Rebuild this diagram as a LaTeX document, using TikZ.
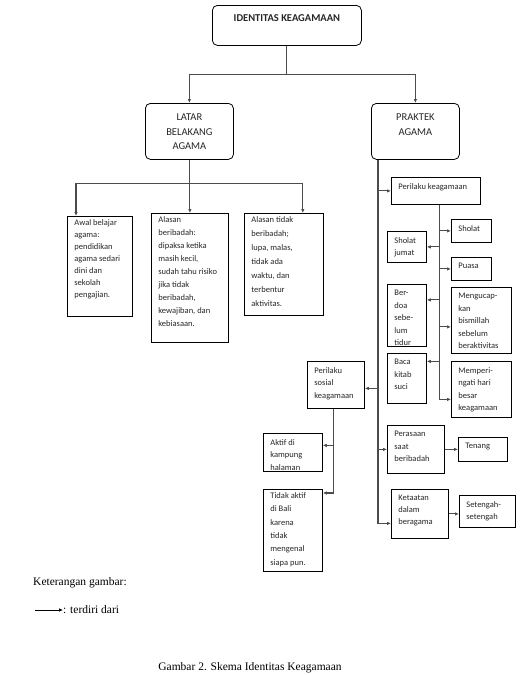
\documentclass[tikz,border=0pt]{standalone}
\usepackage{fontspec}
\setmainfont{Carlito}
\newfontfamily\timesfont{Liberation Serif}
\usetikzlibrary{arrows.meta}
\newcommand{\boxtext}[4][12.5pt]{\parbox[t][#3][t]{#2}{\raggedright\baselineskip=#1\relax #4}}

\begin{document}
\begin{tikzpicture}[x=1pt,y=-1pt,
    box/.style={draw,line width=.8pt,anchor=north west,inner xsep=7pt,inner ysep=6pt,text=black!85,font=\fontsize{8.5}{12.5}\selectfont},
    head/.style={draw,line width=.8pt,rounded corners=5pt,anchor=north west,inner xsep=4pt,inner ysep=10.5pt,text=black!85,font=\fontsize{10.5}{14.5}\selectfont},
    link/.style={draw=black!70,line width=1.1pt},
    >={Latex[length=4pt,width=3.5pt]}]
        \useasboundingbox (0,0) rectangle (522,675);
        % heads
        \node[head,inner ysep=9.5pt] (title) at (212,5) {\boxtext{141pt}{21pt}{\centering\bfseries IDENTITAS KEAGAMAAN}};
        \node[head] (latar) at (145,103) {\boxtext[14.5pt]{80pt}{35pt}{\centering LATAR\\BELAKANG\\AGAMA}};
        \node[head] (praktek) at (371,103) {\boxtext[14.5pt]{80pt}{35pt}{\centering PRAKTEK\\AGAMA}};
        % latar belakang
        \node[box,inner ysep=3pt] (b1) at (67,216) {\boxtext[12pt]{51pt}{94pt}{Awal belajar\\agama:\\pendidikan\\agama sedari\\dini dan\\sekolah\\pengajian.}};
        \node[box,inner ysep=3pt] (b2) at (151,213) {\boxtext[13pt]{63pt}{123pt}{Alasan\\beribadah:\\dipaksa ketika\\masih kecil,\\sudah tahu risiko\\jika tidak\\beribadah,\\kewajiban, dan\\kebiasaan.}};
        \node[box,inner ysep=3pt] (b3) at (244,213) {\boxtext[14pt]{65pt}{96pt}{Alasan tidak\\beribadah;\\lupa, malas,\\tidak ada\\waktu, dan\\terbentur\\aktivitas.}};
        % praktek agama
        \node[box] (pk) at (391,177) {\boxtext{75pt}{15pt}{Perilaku keagamaan}};
        \node[box] (sholat) at (451,219) {\boxtext{26pt}{11pt}{Sholat}};
        \node[box] (jumat) at (387,231) {\boxtext{25pt}{19pt}{Sholat\\jumat}};
        \node[box] (puasa) at (451,257) {\boxtext{26pt}{11pt}{Puasa}};
        \node[box] (berdoa) at (387,284) {\boxtext{25pt}{50pt}{Ber-\\doa\\sebe-\\lum\\tidur}};
        \node[box] (ucap) at (451,287) {\boxtext{46pt}{54pt}{Mengucap-\\kan\\bismillah\\sebelum\\beraktivitas}};
        \node[box] (baca) at (387,353) {\boxtext{25pt}{38pt}{Baca\\kitab\\suci}};
        \node[box] (ingat) at (451,361) {\boxtext{46pt}{44pt}{Memperi-\\ngati hari\\besar\\keagamaan}};
        \node[box] (sosial) at (307,361) {\boxtext{43pt}{35pt}{Perilaku\\sosial\\keagamaan}};
        \node[box] (aktif) at (263,433) {\boxtext{45pt}{26pt}{Aktif di\\kampung\\halaman}};
        \node[box,inner ysep=3pt] (tidak) at (263,489) {\boxtext[13.4pt]{45pt}{76pt}{Tidak aktif\\di Bali\\karena\\tidak\\mengenal\\siapa pun.}};
        \node[box] (rasa) at (387,425) {\boxtext{43pt}{36pt}{Perasaan\\saat\\beribadah}};
        \node[box] (tenang) at (458,437) {\boxtext{35pt}{12pt}{Tenang}};
        \node[box] (taat) at (391,489) {\boxtext[11.7pt]{43pt}{37pt}{Ketaatan\\dalam\\beragama}};
        \node[box] (tengah) at (459,495) {\boxtext{42pt}{20pt}{Setengah-\\setengah}};
        % connectors
        \draw[link] (title.south) -- ++(0,29) coordinate (top);
        \draw[link,->] (top) -| (latar.north);
        \draw[link,->] (top) -| (praktek.north);
        \draw[link] (latar.south) -- ++(0,24) coordinate (lj);
        \draw[link,->] (lj) -| ([xshift=9pt]b1.north west);
        \draw[link,->] (lj) -| (b2.north);
        \draw[link,->] (lj) -| ([xshift=-21pt]b3.north east);
        \coordinate (sp) at ([xshift=7pt]praktek.south west);
        \draw[link,->] (sp) |- (pk.west);
        \draw[link,->] (sp) |- ([yshift=-3.5pt]sosial.east);
        \draw[link,->] (sp) |- (rasa.west);
        \draw[link,->] (sp) |- ([yshift=-9.5pt]taat.west);
        \coordinate (pj) at ([xshift=3.5pt]pk.south);
        \draw[link,->] (pj) |- (sholat.west);
        \draw[link,->] (pj) |- (jumat.east);
        \draw[link,->] (pj) |- (puasa.west);
        \draw[link,->] (pj) |- ([yshift=15.5pt]berdoa.east);
        \draw[link,->] (pj) |- ([yshift=-6.5pt]ucap.west);
        \draw[link,->] (pj) |- ([yshift=17pt]baca.east);
        \draw[link,->] (pj) |- ([yshift=-10pt]ingat.west);
        \coordinate (sj) at ([xshift=-2.5pt]sosial.south);
        \draw[link,->] (sj) |- ([yshift=7pt]aktif.east);
        \draw[link,->] (sj) |- ([yshift=-4pt]tidak.north east);
        \draw[link,->] (rasa.east) -- (tenang.west);
        \draw[link,->] (taat.east) -- (taat.east -| tengah.west);
        % legend and caption
        \node[anchor=west,inner sep=0pt,font=\timesfont\fontsize{11.5}{14}\selectfont] (ket) at (33,583) {Keterangan gambar:};
        \coordinate (lg) at (35,610);
        \node[anchor=west,inner sep=0pt,font=\timesfont\fontsize{11.5}{14}\selectfont] (terdiri) at (63,610) {: terdiri dari};
        \draw[line width=.7pt,->] (lg) -- (terdiri.west);
        \node[font=\timesfont\fontsize{11.5}{14}\selectfont] (cap) at (250,668) {Gambar 2. Skema Identitas Keagamaan};
      \end{tikzpicture}
\end{document}
